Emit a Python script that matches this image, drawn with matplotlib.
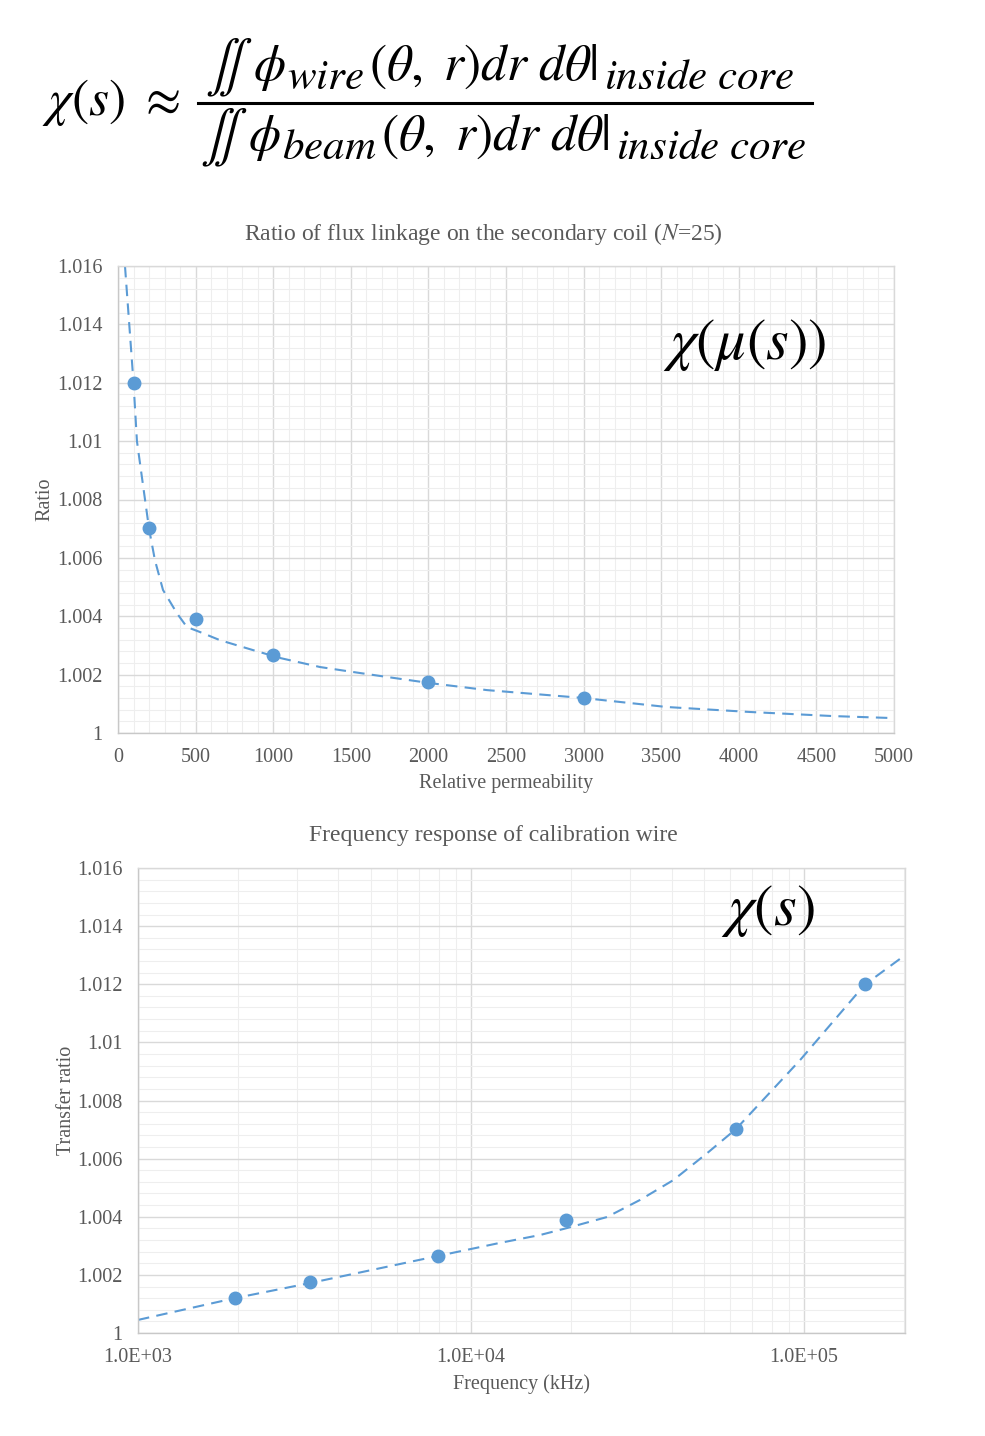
import numpy as np
import matplotlib
matplotlib.use("Agg")
import matplotlib.pyplot as plt
from matplotlib.lines import Line2D
from matplotlib.ticker import MultipleLocator, FixedLocator, FuncFormatter, LogLocator

plt.rcParams["font.family"] = ["Liberation Serif", "DejaVu Serif"]
plt.rcParams["mathtext.fontset"] = "stix"

# Ratio vs relative permeability (markers)
perm = [100, 200, 500, 1000, 2000, 3000]
perm_ratio = [1.012, 1.00702, 1.0039, 1.00267, 1.00175, 1.0012]

# Trend curve through the permeability data
perm_fit_x = [45, 100, 122, 174, 200, 238, 290, 380, 444, 528, 657, 870, 1044,
              1302, 1514, 1733, 2010, 2377, 2996, 3537, 4072, 4607, 5000]
perm_fit_y = [1.016, 1.012, 1.0100, 1.0080, 1.0070, 1.00592, 1.0049, 1.0041,
              1.00363, 1.00346, 1.00318, 1.00284, 1.00257, 1.00226, 1.00209,
              1.00192, 1.00171, 1.00147, 1.0012, 1.00089, 1.00072, 1.00058,
              1.00051]

# Transfer ratio vs frequency (markers)
freq = [1955, 3290, 7950, 19300, 62500, 152000]
freq_ratio = [1.0012, 1.00175, 1.00265, 1.0039, 1.00702, 1.012]

# Trend curve through the frequency data
freq_fit_x = [1000, 1955, 3290, 7950, 12200, 16100, 19400, 25600, 32200, 40500,
              51200, 62500, 97300, 152000, 201000]
freq_fit_y = [1.00045, 1.0012, 1.00172, 1.00265, 1.0031, 1.00337, 1.00361,
              1.00399, 1.00458, 1.00526, 1.00619, 1.00702, 1.00939, 1.01198,
              1.0130]

y_ticks = [1.0, 1.002, 1.004, 1.006, 1.008, 1.01, 1.012, 1.014, 1.016]
x_ticks_perm = [0, 500, 1000, 1500, 2000, 2500, 3000, 3500, 4000, 4500, 5000]
x_ticks_freq = [1e3, 1e4, 1e5]
x_labels_freq = ["1.0E+03", "1.0E+04", "1.0E+05"]

BLUE = "#5b9bd5"
TXT = "#595959"
MAJ = "#d9d9d9"
MIN = "#eeeeee"
DASH = (0, (5.5, 3.5))


def general_fmt(v, pos):
    return f"{v:.3f}".rstrip("0").rstrip(".")


def style_axes(ax):
    for side in ["left", "bottom", "top", "right"]:
        ax.spines[side].set_color(MAJ)
        ax.spines[side].set_linewidth(1.0)
    ax.spines["left"].set_color("#c8c8c8")
    ax.spines["bottom"].set_color("#c8c8c8")
    ax.grid(True, which="major", color=MAJ, linewidth=1.0)
    ax.grid(True, which="minor", color=MIN, linewidth=0.8)
    ax.set_axisbelow(True)
    ax.tick_params(which="both", length=0, labelsize=14.5, labelcolor=TXT, pad=11)
    ax.yaxis.set_major_locator(FixedLocator(y_ticks))
    ax.yaxis.set_minor_locator(MultipleLocator(0.0004))
    ax.yaxis.set_major_formatter(FuncFormatter(general_fmt))
    ax.set_ylim(1.0, 1.016)


def px(x, y):
    return x / 985, 1 - y / 1436


fig = plt.figure(figsize=(9.85, 14.36), dpi=100)
renderer = fig.canvas.get_renderer()

# Formula heading: chi(s) ~ numerator / denominator, with large subscripts
FS = 37
SUB = 31
fig.text(*px(42, 103), r"$\chi(s)\ \approx$", fontsize=FS,
         color="black", ha="left", va="center")
formula_rows = [
    (205, 80, [(r"$\iint\ \phi$", FS, 1), (r"$wire$", SUB, 5),
               (r"$(\theta,\ r)dr\ d\theta|$", FS, 6), (r"$inside\ core$", SUB, 0)]),
    (200, 150, [(r"$\iint\ \phi$", FS, 1), (r"$beam$", SUB, 5),
                (r"$(\theta,\ r)dr\ d\theta|$", FS, 6), (r"$inside\ core$", SUB, 0)]),
]
for x_start, base_main, pieces in formula_rows:
    x_cur = x_start
    for txt, size, gap in pieces:
        base = base_main if size == FS else base_main + 9
        t = fig.text(*px(x_cur, base), txt, fontsize=size, color="black",
                     ha="left", va="baseline")
        x_cur += t.get_window_extent(renderer).width + gap
fig.add_artist(Line2D([198 / 985, 812 / 985], [1 - 103 / 1436, 1 - 103 / 1436],
                      color="black", linewidth=2.2))

# Upper chart: ratio vs permeability
ax1 = fig.add_axes([118 / 985, 1 - 733 / 1436, 776 / 985, 467 / 1436])
style_axes(ax1)
ax1.plot(perm_fit_x, perm_fit_y, color=BLUE, linestyle=DASH, linewidth=1.5)
ax1.plot(perm, perm_ratio, "o", color=BLUE, markersize=9)
ax1.set_xlim(0, 5000)
ax1.xaxis.set_major_locator(FixedLocator(x_ticks_perm))
ax1.xaxis.set_minor_locator(MultipleLocator(100))
ax1.set_xlabel("Relative permeability", fontsize=14.5, color=TXT, labelpad=5)
ax1.set_ylabel("Ratio", fontsize=14.5, color=TXT, labelpad=2)
fig.text(*px(483, 234),
         r"Ratio of flux linkage on the secondary coil ($N$=25)",
         fontsize=17, color=TXT, ha="center", va="center")
ax1.text(0.808, 0.831, r"$\chi(\mu(s))$", transform=ax1.transAxes,
         fontsize=42, color="black", ha="center", va="center")

# Lower chart: transfer ratio vs frequency
ax2 = fig.add_axes([138 / 985, 1 - 1333 / 1436, 767 / 985, 465 / 1436])
style_axes(ax2)
ax2.set_xscale("log")
ax2.plot(freq_fit_x, freq_fit_y, color=BLUE, linestyle=DASH, linewidth=1.5)
ax2.plot(freq, freq_ratio, "o", color=BLUE, markersize=9)
ax2.set_xlim(1e3, 2.01e5)
ax2.xaxis.set_major_locator(FixedLocator(x_ticks_freq))
ax2.set_xticklabels(x_labels_freq)
ax2.xaxis.set_minor_locator(LogLocator(base=10, subs=np.arange(2, 10)))
ax2.xaxis.set_minor_formatter(FuncFormatter(lambda v, p: ""))
ax2.set_xlabel("Frequency (kHz)", fontsize=14.5, color=TXT, labelpad=5)
ax2.set_ylabel("Transfer ratio", fontsize=14.5, color=TXT, labelpad=1)
fig.text(*px(493, 835), "Frequency response of calibration wire",
         fontsize=17, color=TXT, ha="center", va="center")
ax2.text(0.821, 0.907, r"$\chi(s)$", transform=ax2.transAxes,
         fontsize=42, color="black", ha="center", va="center")

fig.savefig("out.png", dpi=100, facecolor="white")
